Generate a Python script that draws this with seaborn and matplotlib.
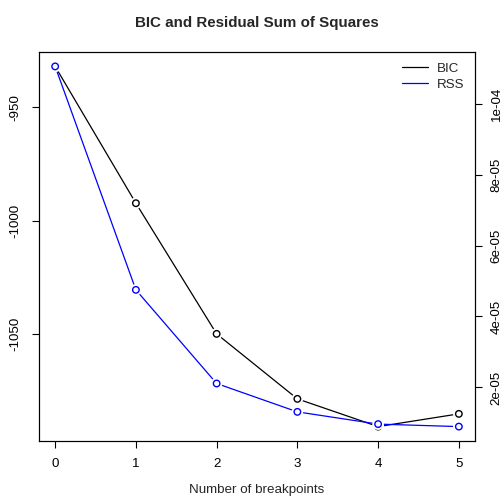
import matplotlib
matplotlib.use("Agg")
import matplotlib.pyplot as plt
import seaborn as sns
import numpy as np
import pandas as pd

breakpoints = [0, 1, 2, 3, 4, 5]
bic_values = [-932.1, -992.3, -1049.8, -1078.4, -1090.6, -1085.0]
rss_values = [1.105e-4, 4.75e-5, 2.11e-5, 1.31e-5, 0.965e-5, 0.895e-5]
left_ticks = [-1050, -1000, -950]
right_ticks = [2e-5, 4e-5, 6e-5, 8e-5, 1e-4]
right_labels = ["2e-05", "4e-05", "6e-05", "8e-05", "1e-04"]

sns.set_style("white")
plt.rcParams['font.family'] = ['Liberation Sans', 'DejaVu Sans']

df = pd.DataFrame({"n": breakpoints, "BIC": bic_values, "RSS": rss_values})

fig = plt.figure(figsize=(5.03, 5.0), dpi=100)
ax = fig.add_axes([39/503, 1-441/500, (475-39)/503, (441-52)/500])
fs = 9.6

def rlim(v):
    lo, hi = min(v), max(v)
    r = hi - lo
    return lo - 0.04*r, hi + 0.04*r

def draw(axx, y, color):
    sns.lineplot(data=df, x="n", y=y, ax=axx, color=color, lw=0.9, zorder=2, legend=False)
    axx.scatter(df["n"], df[y], s=70, facecolor="white", edgecolor="none", zorder=3)
    axx.scatter(df["n"], df[y], s=22, facecolor="none", edgecolor=color, linewidths=1.0, zorder=4)

draw(ax, "BIC", "black")
ax.set_xlim(rlim(breakpoints))
ax.set_ylim(rlim(bic_values))
ax.set_xticks(breakpoints)
ax.set_yticks(left_ticks)
ax.set_yticklabels([str(t) for t in left_ticks], rotation=90, va="center")
ax.tick_params(axis="both", direction="out", length=5.2, width=0.8, labelsize=fs, pad=7, left=True, bottom=True, colors="black")
ax.tick_params(axis="y", pad=7.5)
ax.set_xlabel("Number of breakpoints", fontsize=fs, labelpad=10)
ax.set_ylabel("")
ax.set_title("BIC and Residual Sum of Squares", fontsize=10.9, fontweight="bold", pad=18)
for s in ax.spines.values():
    s.set_color("black"); s.set_linewidth(0.8)

ax2 = ax.twinx()
draw(ax2, "RSS", "blue")
ax2.set_ylim(rlim(rss_values))
ax2.set_yticks(right_ticks)
ax2.set_yticklabels(right_labels, rotation=90, va="center")
ax2.tick_params(axis="y", direction="out", length=5.2, width=0.8, labelsize=fs, pad=6, right=True, colors="black")
ax2.set_ylabel("")
for s in ax2.spines.values():
    s.set_color("black"); s.set_linewidth(0.8)

from matplotlib.lines import Line2D
handles = [Line2D([], [], color="black", lw=0.9), Line2D([], [], color="blue", lw=0.9)]
ax2.legend(handles, ["BIC", "RSS"], loc="upper right", frameon=False, fontsize=fs,
           handlelength=1.9, handletextpad=0.7, labelspacing=0.25, borderaxespad=0.4)

fig.savefig("out.png", dpi=100)
